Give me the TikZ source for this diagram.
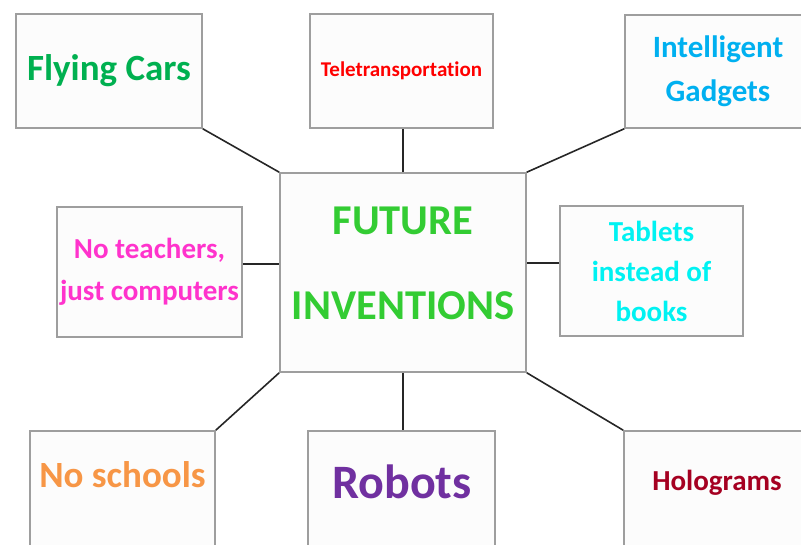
\documentclass[tikz,border=0pt]{standalone}
\usepackage{fontspec}
\setmainfont{Carlito}[Ligatures=NoCommon]
\usetikzlibrary{positioning}
\definecolor{carsgreen}{HTML}{00B050}
\definecolor{telered}{HTML}{FF0000}
\definecolor{gadgetblue}{HTML}{00B0F0}
\definecolor{futuregreen}{HTML}{33CC33}
\definecolor{teachpink}{HTML}{FF33CC}
\definecolor{tabletcyan}{HTML}{00F2F2}
\definecolor{schoolorange}{HTML}{F79646}
\definecolor{robotpurple}{HTML}{7030A0}
\definecolor{hologramred}{HTML}{A50021}
\newcommand{\fs}[2]{\fontsize{#1}{#2}\selectfont\bfseries}

\begin{document}
\begin{tikzpicture}[
  x=1pt, y=-1pt,
  box/.style={rectangle, draw=black!38, line width=1.6pt, fill=black!1, inner sep=2pt, align=center},
  label/.style={inner sep=0pt, align=center},
  link/.style={draw=black!85, line width=1.6pt}
]
  \useasboundingbox (0,0) rectangle (801,544);
  \clip (0,0) rectangle (801,544);

  % Centre
  \node[box, minimum width=246pt, minimum height=199pt, text=futuregreen, font=\fs{42.5}{85}, text depth=18pt] (future) at (403,272.5) {FUTURE\\INVENTIONS};

  % Top row
  \node[box, minimum width=186pt, minimum height=114pt, text=carsgreen, font=\fs{37}{40}] (cars) at (109,71) {Flying Cars};
  \node[box, minimum width=183pt, minimum height=114pt, text=telered, font=\fs{21}{24}] (tele) at (401.5,71) {Teletransportation};
  \node[box, minimum width=186pt, minimum height=113pt, text=gadgetblue, font=\fs{31}{44}] (gadgets) at (718,71.5) {Intelligent\\Gadgets};

  % Middle row
  \node[box, minimum width=185pt, minimum height=130pt, text=teachpink, font=\fs{29}{42}] (teach) at (149.5,272) {No teachers,\\just computers};
  \node[box, minimum width=183pt, minimum height=130pt, text=tabletcyan, font=\fs{29}{40}] (tablets) at (651.5,271) {Tablets\\instead of\\books};

  % Bottom row (cut by the page edge)
  \node[box, minimum width=185pt, minimum height=140pt] (schools) at (122.5,501) {};
  \node[box, minimum width=187pt, minimum height=140pt] (robots) at (401.5,501) {};
  \node[box, minimum width=186pt, minimum height=140pt] (holo) at (717,501) {};
  \node[label, anchor=base, text=schoolorange, font=\fs{37}{40}] (schoolstxt) at (122.5,487) {No schools};
  \node[label, anchor=base, text=robotpurple, font=\fs{48}{50}] (robotstxt) at (402,498) {Robots};
  \node[label, anchor=base, text=hologramred, font=\fs{29}{32}] (holotxt) at (717,490) {Holograms};

  % Links to the centre
  \draw[link] (cars.south east) -- (future.north west);
  \draw[link] (future.north) -- (future.north |- tele.south);
  \draw[link] (gadgets.south west) -- (future.north east);
  \draw[link] ([yshift=8pt]teach.east) -- ([yshift=8pt]teach.east -| future.west);
  \draw[link] ([yshift=8pt]tablets.west) -- ([yshift=8pt]tablets.west -| future.east);
  \draw[link] (schools.north east) -- (future.south west);
  \draw[link] (future.south) -- (future.south |- robots.north);
  \draw[link] (holo.north west) -- (future.south east);
\end{tikzpicture}
\end{document}
